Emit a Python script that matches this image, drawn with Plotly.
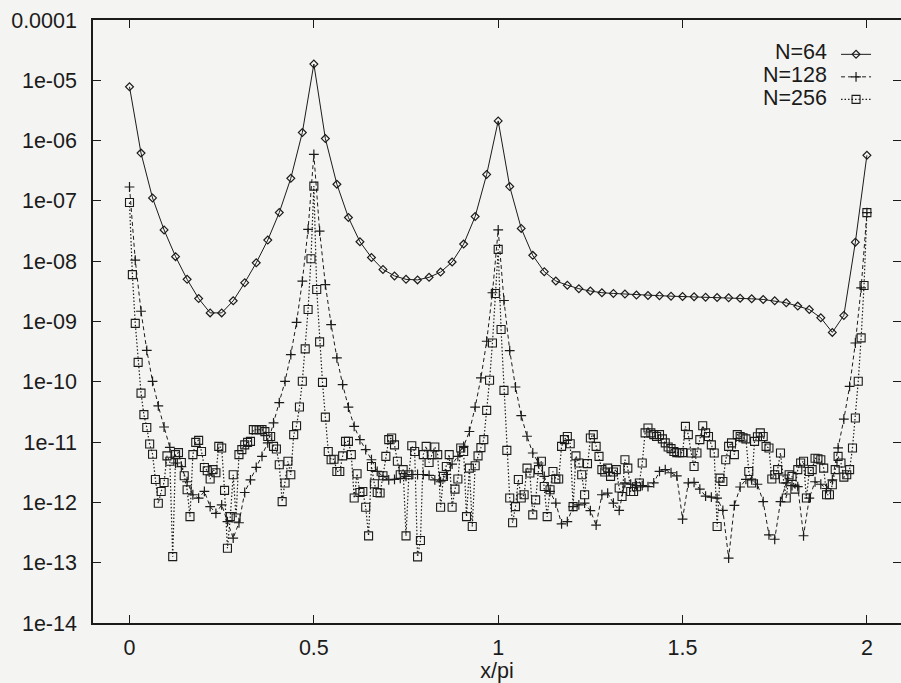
import numpy as np
import plotly.graph_objects as go

# ---- data (error vs x/pi) ----
n64_err = [
    7.8e-6, 6.2e-7, 1.12e-7, 3.3e-8, 1.19e-8, 5.0e-9, 2.4e-9, 1.39e-9, 1.39e-9, 2.2e-9,
    4.4e-9, 9.4e-9, 2.24e-8, 6.4e-8, 2.37e-7, 1.36e-6, 1.86e-5, 1.08e-6, 1.89e-7, 5.3e-8,
    2.1e-8, 1.15e-8, 7.3e-9, 5.7e-9, 5.0e-9, 4.9e-9, 5.4e-9, 6.6e-9, 9.7e-9, 1.92e-8,
    5.5e-8, 2.75e-7, 2.12e-6, 1.73e-7, 3.5e-8, 1.25e-8, 6.7e-9, 4.7e-9, 4.0e-9, 3.5e-9,
    3.2e-9, 3.0e-9, 2.92e-9, 2.85e-9, 2.74e-9, 2.7e-9, 2.68e-9, 2.63e-9, 2.6e-9, 2.57e-9,
    2.53e-9, 2.5e-9, 2.47e-9, 2.43e-9, 2.38e-9, 2.32e-9, 2.2e-9, 2.04e-9, 1.8e-9, 1.58e-9,
    1.15e-9, 6.6e-10, 1.26e-9, 2.07e-8, 5.7e-7,
]

n128_err = [
    1.7e-7, 1.04e-8, 1.48e-9, 3.33e-10, 1.02e-10, 4.0e-11, 1.78e-11, 8.2e-12, 4.5e-12, 3.9e-12,
    2.2e-12, 1.34e-12, 1.18e-12, 1.52e-12, 8.5e-13, 6.6e-13, 9.1e-13, 4.8e-13, 2.55e-13, 4.6e-13,
    1.46e-12, 2.37e-12, 3.8e-12, 5.8e-12, 9.7e-12, 2.08e-11, 4.5e-11, 1.02e-10, 2.83e-10, 9.7e-10,
    4.67e-9, 3.38e-8, 5.9e-7, 3.16e-8, 4.1e-9, 8.9e-10, 2.5e-10, 9.0e-11, 3.8e-11, 1.82e-11,
    1.1e-11, 7.5e-12, 5.1e-12, 3.26e-12, 2.7e-12, 2.37e-12, 2.4e-12, 2.5e-12, 2.7e-12, 2.9e-12,
    2.9e-12, 2.9e-12, 2.8e-12, 2.37e-12, 2.2e-12, 2.9e-12, 4.3e-12, 5.8e-12, 8.5e-12, 1.5e-11,
    3.8e-11, 1.16e-10, 4.7e-10, 3.0e-9, 3.3e-8, 2.23e-9, 3.3e-10, 8.2e-11, 2.75e-11, 1.25e-11,
    6.6e-12, 4.5e-12, 2.7e-12, 1.52e-12, 9.7e-13, 4.4e-13, 4.8e-13, 8.5e-13, 9.1e-13, 9.7e-13,
    7.3e-13, 4.2e-13, 1.34e-12, 1.42e-12, 9.7e-13, 7.4e-13, 2.1e-12, 2.0e-12, 1.9e-12, 1.9e-12,
    1.83e-12, 2.1e-12, 3.26e-12, 3.5e-12, 3.1e-12, 2.75e-12, 5.3e-13, 2.1e-12, 2.15e-12, 1.66e-12,
    1.27e-12, 1.22e-12, 1.18e-12, 7.4e-13, 1.19e-13, 8.9e-13, 1.8e-12, 2.4e-12, 2.37e-12, 2.0e-12,
    1.03e-12, 2.9e-13, 2.45e-13, 1.03e-12, 2.1e-12, 1.9e-12, 1.83e-12, 2.8e-13, 1.18e-12, 2.2e-12,
    2.0e-12, 1.7e-12, 2.37e-12, 8.0e-12, 2.4e-11, 8.4e-11, 4.4e-10, 3.6e-9, 6.4e-8,
]

n256_err = [
    9.4e-8, 6.0e-9, 9.3e-10, 2.1e-10, 6.5e-11, 2.85e-11, 1.75e-11, 9.3e-12, 6.3e-12, 2.4e-12,
    9.7e-13, 1.52e-12, 2.14e-12, 5.9e-12, 4.8e-12, 1.26e-13, 6.2e-12, 6.7e-12, 4.6e-12, 2.77e-12,
    1.62e-12, 5.8e-13, 6.2e-12, 9.9e-12, 1.07e-11, 7.0e-12, 3.8e-12, 3.35e-12, 2.44e-12, 3.5e-12,
    3.1e-12, 8.5e-12, 8.0e-12, 1.58e-12, 1.74e-13, 5.8e-13, 2.87e-12, 5.5e-13, 6.2e-12, 7.5e-12,
    9.0e-12, 9.9e-12, 1.03e-11, 1.61e-11, 1.61e-11, 1.61e-11, 1.61e-11, 1.49e-11, 1.24e-11, 1.24e-11,
    8.5e-12, 7.7e-12, 4.2e-12, 1.03e-12, 2.1e-12, 4.8e-12, 2.87e-12, 1.33e-11, 1.87e-11, 3.83e-11,
    1.02e-10, 3.52e-10, 1.58e-9, 1.1e-8, 1.76e-7, 3.4e-9, 4.6e-10, 9.8e-11, 2.6e-11, 7.0e-12,
    5.1e-12, 5.2e-12, 3.26e-12, 3.26e-12, 5.9e-12, 1.03e-11, 1.03e-11, 6.2e-12, 1.18e-12, 2.98e-12,
    1.46e-12, 1.52e-12, 8.3e-13, 2.79e-13, 3.95e-12, 2.04e-12, 1.46e-12, 1.43e-12, 2.77e-12, 5.8e-12,
    1.1e-11, 1.17e-11, 9.0e-12, 4.8e-12, 2.87e-12, 3.5e-12, 2.79e-13, 2.87e-12, 8.7e-12, 7.0e-12,
    1.25e-13, 2.33e-13, 6.2e-12, 8.5e-12, 4.6e-12, 6.2e-12, 8.3e-12, 6.2e-12, 8.3e-13, 2.7e-12,
    3.95e-12, 6.2e-12, 8.3e-13, 1.66e-12, 2.44e-12, 8.0e-12, 7.0e-12, 5.8e-13, 3.7e-12, 3.98e-13,
    4.06e-12, 5.9e-12, 8.1e-12, 1.1e-11, 3.36e-11, 1.06e-10, 4.4e-10, 2.92e-9, 1.57e-8, 7.36e-10,
    7.2e-11, 7.3e-12, 1.18e-12, 4.6e-13, 8.5e-13, 2.4e-12, 1.18e-12, 1.34e-12, 3.7e-12, 3.07e-12,
    6.2e-13, 1.1e-12, 3.5e-12, 4.8e-12, 1.84e-12, 5.8e-13, 1.62e-12, 3.26e-12, 2.44e-12, 2.44e-12,
    8.5e-12, 1.1e-11, 1.24e-11, 9.4e-12, 8.5e-13, 5.9e-12, 4.5e-12, 2.87e-12, 1.34e-12, 4.4e-12,
    1.17e-11, 1.33e-11, 8.5e-12, 5.8e-12, 3.5e-12, 3.2e-12, 3.7e-12, 2.7e-12, 3.2e-12, 3.5e-12,
    1.73e-12, 1.25e-12, 5.1e-12, 3.7e-12, 1.52e-12, 1.52e-12, 1.82e-12, 2.1e-12, 4.5e-12, 1.42e-11,
    1.71e-11, 1.42e-11, 1.33e-11, 1.24e-11, 1.33e-11, 1.13e-11, 9.7e-12, 8.3e-12, 7.8e-12, 7.0e-12,
    6.7e-12, 6.7e-12, 6.7e-12, 1.82e-11, 1.33e-11, 6.6e-12, 3.95e-12, 6.6e-12, 1.1e-11, 1.87e-11,
    1.42e-11, 1.24e-11, 9.0e-12, 6.6e-12, 3.98e-13, 2.53e-12, 2.22e-12, 5.1e-12, 8.5e-12, 9.7e-12,
    6.2e-12, 1.33e-11, 1.24e-11, 1.18e-11, 1.13e-11, 3.26e-12, 2.1e-12, 1.03e-11, 1.23e-11, 1.42e-11,
    1.24e-11, 8.5e-12, 8.0e-12, 2.44e-12, 2.87e-12, 3.5e-12, 6.6e-12, 2.44e-12, 1.18e-12, 2.87e-12,
    2.7e-12, 1.66e-12, 3.5e-12, 4.5e-12, 4.8e-12, 1.18e-12, 3.26e-12, 3.5e-12, 5.4e-12, 5.3e-12,
    5.1e-12, 3.7e-12, 1.34e-12, 1.34e-12, 1.96e-12, 3.5e-12, 5.8e-12, 4.5e-12, 2.63e-12, 2.87e-12,
    3.5e-12, 8.0e-12, 2.51e-11, 1.02e-10, 5.35e-10, 3.96e-9, 6.4e-8,
]

series_names = ["N=64", "N=128", "N=256"]

ytick_vals = [1e-4, 1e-5, 1e-6, 1e-7, 1e-8, 1e-9, 1e-10, 1e-11, 1e-12, 1e-13, 1e-14]
ytick_text = ["0.0001", "1e-05", "1e-06", "1e-07", "1e-08", "1e-09",
              "1e-10", "1e-11", "1e-12", "1e-13", "1e-14"]
xtick_vals = [0, 0.5, 1, 1.5, 2]
xtick_text = ["0", "0.5", "1", "1.5", "2"]

# sampling grids on [0, 2] (x/pi)
x64 = np.linspace(0, 2, len(n64_err))
x128 = np.linspace(0, 2, len(n128_err))
x256 = np.linspace(0, 2, len(n256_err))

ink = "#1b1b1b"
bg = "#f4f4f2"
font_family = "Liberation Sans, Arial, Helvetica, sans-serif"
fsize = 21.5

fig = go.Figure()
fig.add_trace(go.Scatter(
    x=x64, y=n64_err, mode="lines+markers", name=" ",
    line=dict(color=ink, width=1),
    marker=dict(symbol="diamond-open", size=6, color=ink, line=dict(width=1.2, color=ink)),
))
fig.add_trace(go.Scatter(
    x=x128, y=n128_err, mode="lines+markers", name=" ",
    line=dict(color=ink, width=1, dash="4px,3px"),
    marker=dict(symbol="cross-thin-open", size=7, color=ink, line=dict(width=1.2, color=ink)),
))
fig.add_trace(go.Scatter(
    x=x256, y=n256_err, mode="lines+markers", name=" ",
    line=dict(color=ink, width=1.2, dash="1.5px,2px"),
    marker=dict(symbol="square-open", size=8, color=ink, line=dict(width=1.1, color=ink)),
))

axis_common = dict(
    showline=True, linecolor=ink, linewidth=1.5, mirror="ticks",
    ticks="inside", ticklen=8, tickwidth=1.2, tickcolor=ink,
    showgrid=False, zeroline=False,
    tickfont=dict(family=font_family, size=fsize, color=ink),
)

fig.update_xaxes(
    range=[-0.099, 2.0925], tickmode="array", tickvals=xtick_vals, ticktext=xtick_text,
    title=dict(text="x/pi", font=dict(family=font_family, size=fsize, color=ink), standoff=4),
    ticklabelstandoff=4,
    **axis_common,
)
fig.update_yaxes(
    type="log", range=[-14, -4], tickmode="array", tickvals=ytick_vals, ticktext=ytick_text,
    ticklabelstandoff=10,
    **axis_common,
)

# legend labels (text placed left of the legend keys, as in the reference)
label_y = [0.9464, 0.9088, 0.8711]
for name, yy in zip(series_names, label_y):
    fig.add_annotation(
        x=0.9110, y=yy, xref="paper", yref="paper", text=name, showarrow=False,
        xanchor="right", yanchor="middle",
        font=dict(family=font_family, size=fsize, color=ink),
    )

fig.update_layout(
    width=901, height=683,
    margin=dict(l=93, r=0, t=20, b=60, autoexpand=False),
    paper_bgcolor=bg, plot_bgcolor=bg,
    showlegend=True,
    legend=dict(
        x=0.9196, y=0.970, xanchor="left", yanchor="top",
        bgcolor="rgba(0,0,0,0)", borderwidth=0,
        font=dict(family=font_family, size=15, color=ink),
        itemwidth=30, tracegroupgap=0,
    ),
)

fig.write_html("out.html")
